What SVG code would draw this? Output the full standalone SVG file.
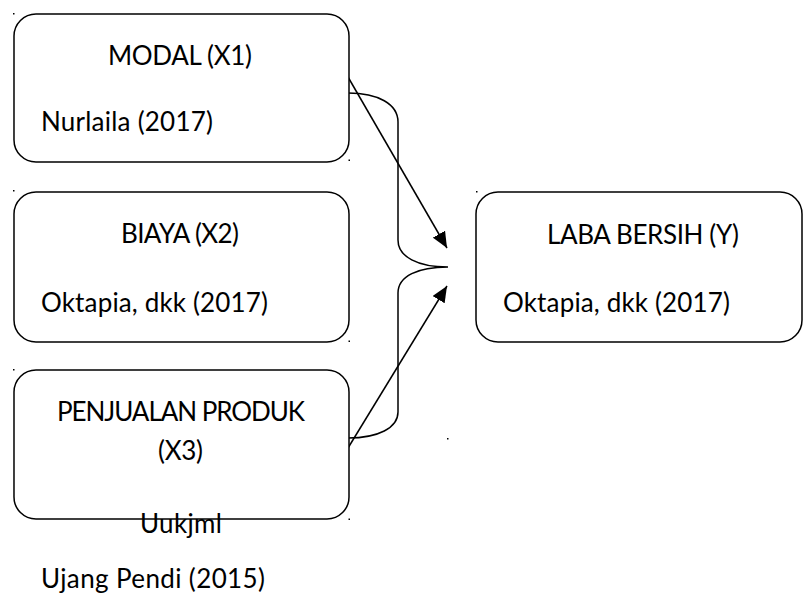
<svg xmlns="http://www.w3.org/2000/svg" width="803" height="602" viewBox="0 0 803 602">
<defs>
<style>
.box{fill:#fff;stroke:#000;stroke-width:1.5}
.t{font-family:Lato,"Liberation Sans",sans-serif;font-size:26px;fill:#000}
.ln{fill:none;stroke:#000;stroke-width:1.5}
.dot{fill:#000}
</style>
<marker id="ahb" markerWidth="16" markerHeight="14" refX="16" refY="7" orient="auto" markerUnits="userSpaceOnUse">
<path d="M0,0 L16,7 L0,14 z" fill="#000"/>
</marker>
</defs>
<rect width="803" height="602" fill="#fff"/>
<g id="connectors">
<path class="ln" d="M348,93 C378,93 398,104 398,122 L398,240 C398,257 418,267 448,267 C418,267 398,276 398,293 L398,412 C398,428 378,438 348,438"/>
<line class="ln" x1="348" y1="77" x2="447" y2="248" marker-end="url(#ahb)"/>
<line class="ln" x1="348" y1="448" x2="447" y2="286" marker-end="url(#ahb)"/>
</g>
<g id="node-x1">
<rect class="box" x="14" y="14" width="335" height="148" rx="22"/>
<text class="t" x="108" y="65" textLength="144" lengthAdjust="spacing">MODAL (X1)</text>
<text class="t" x="41" y="131" textLength="172" lengthAdjust="spacing">Nurlaila (2017)</text>
</g>
<g id="node-x2">
<rect class="box" x="14" y="192" width="335" height="150" rx="22"/>
<text class="t" x="121" y="243" textLength="118" lengthAdjust="spacing">BIAYA (X2)</text>
<text class="t" x="41" y="312" textLength="227" lengthAdjust="spacing">Oktapia, dkk (2017)</text>
</g>
<g id="node-x3">
<rect class="box" x="14" y="370" width="335" height="149" rx="22"/>
<text class="t" x="57" y="421" textLength="248" lengthAdjust="spacing">PENJUALAN PRODUK</text>
<text class="t" x="158" y="460" textLength="45" lengthAdjust="spacing">(X3)</text>
</g>
<g id="node-y">
<rect class="box" x="476" y="192" width="326" height="150" rx="22"/>
<text class="t" x="547" y="244" textLength="192" lengthAdjust="spacing">LABA BERSIH (Y)</text>
<text class="t" x="503" y="312" textLength="227" lengthAdjust="spacing">Oktapia, dkk (2017)</text>
</g>
<g id="loose-text">
<text class="t" x="140" y="533" textLength="82" lengthAdjust="spacing">Uukjml</text>
<text class="t" x="41" y="588" textLength="224" lengthAdjust="spacing">Ujang Pendi (2015)</text>
</g>
<g id="marks">
<rect class="dot" x="13" y="13" width="1.5" height="1.5"/>
<rect class="dot" x="348.5" y="159.5" width="1.5" height="1.5"/>
<rect class="dot" x="13" y="190" width="1.5" height="1.5"/>
<rect class="dot" x="348.5" y="340.5" width="1.5" height="1.5"/>
<rect class="dot" x="13" y="369" width="1.5" height="1.5"/>
<rect class="dot" x="348.5" y="518.5" width="1.5" height="1.5"/>
<rect class="dot" x="476" y="191" width="1.5" height="1.5"/>
<rect class="dot" x="447" y="438" width="1.5" height="1.5"/>
</g>
</svg>
